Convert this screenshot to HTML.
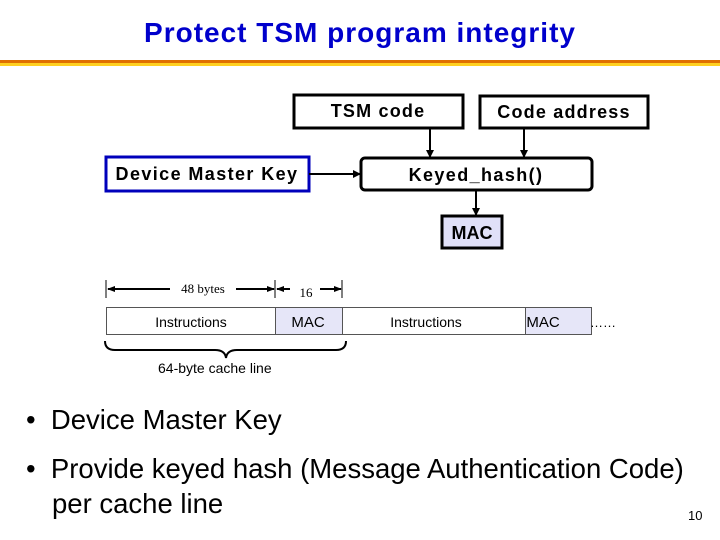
<!DOCTYPE html>
<html><head><style>
body{margin:0;width:720px;height:540px;background:#fff;overflow:hidden;position:relative;font-family:"Liberation Sans",sans-serif}
.t{position:absolute;white-space:nowrap}
</style></head><body>
<div class="t" style="left:0;width:720px;top:17px;text-align:center;font-size:28px;font-weight:bold;color:#0000cc;letter-spacing:1px">Protect TSM program integrity</div>
<div style="position:absolute;left:0;top:60px;width:720px;height:3px;background:#e07000"></div>
<div style="position:absolute;left:0;top:63px;width:720px;height:3px;background:#ffd020"></div>
<svg width="720" height="540" style="position:absolute;left:0;top:0" font-family="Liberation Sans, sans-serif">
<defs><marker id="a" markerWidth="8" markerHeight="8" refX="7" refY="4" orient="auto" markerUnits="userSpaceOnUse"><path d="M0,0L8,4L0,8z" fill="#000"/></marker>
<marker id="s" markerWidth="8" markerHeight="6" refX="7" refY="3" orient="auto" markerUnits="userSpaceOnUse"><path d="M0,0L8,3L0,6z" fill="#000"/></marker></defs>
<rect x="294" y="95" width="169" height="33" fill="#fff" stroke="#000" stroke-width="3"/>
<text x="378" y="117" text-anchor="middle" font-size="18" font-weight="bold" letter-spacing="1.2">TSM code</text>
<rect x="480" y="96" width="168" height="32" fill="#fff" stroke="#000" stroke-width="3"/>
<text x="564" y="118" text-anchor="middle" font-size="18" font-weight="bold" letter-spacing="1.2">Code address</text>
<rect x="106" y="157" width="203" height="34" fill="#fff" stroke="#0000bb" stroke-width="3"/>
<text x="207" y="180" text-anchor="middle" font-size="18" font-weight="bold" letter-spacing="1.4">Device Master Key</text>
<rect x="361" y="158" width="231" height="32" rx="4" fill="#fff" stroke="#000" stroke-width="3"/>
<text x="476" y="181" text-anchor="middle" font-size="18" font-weight="bold" letter-spacing="1.4">Keyed_hash()</text>
<rect x="442" y="216" width="60" height="32" fill="#e0e0f8" stroke="#000" stroke-width="3"/>
<text x="472" y="239" text-anchor="middle" font-size="18" font-weight="bold">MAC</text>
<line x1="430" y1="128" x2="430" y2="157" stroke="#000" stroke-width="2" marker-end="url(#a)"/>
<line x1="524" y1="128" x2="524" y2="157" stroke="#000" stroke-width="2" marker-end="url(#a)"/>
<line x1="309" y1="174" x2="360" y2="174" stroke="#000" stroke-width="2" marker-end="url(#a)"/>
<line x1="476" y1="190" x2="476" y2="215" stroke="#000" stroke-width="2" marker-end="url(#a)"/>
<g stroke="#000" stroke-width="1">
<line x1="106" y1="280" x2="106" y2="298"/><line x1="275" y1="280" x2="275" y2="298"/><line x1="342" y1="280" x2="342" y2="298"/>
</g>
<g stroke="#000" stroke-width="2">
<line x1="236" y1="289" x2="274" y2="289" marker-end="url(#s)"/>
<line x1="320" y1="289" x2="341" y2="289" marker-end="url(#s)"/>
</g>
<path d="M170,289 L108,289" stroke="#000" stroke-width="2" marker-end="url(#s)"/>
<path d="M290,289 L277,289" stroke="#000" stroke-width="2" marker-end="url(#s)"/>
<text x="203" y="293" text-anchor="middle" font-size="13" font-family="Liberation Serif, serif">48 bytes</text>
<text x="306" y="297" text-anchor="middle" font-size="13" font-family="Liberation Serif, serif">16</text>
<g stroke="#555" stroke-width="1">
<rect x="106.5" y="307.5" width="169" height="27" fill="#fff"/>
<rect x="275.5" y="307.5" width="67" height="27" fill="#e6e6f8"/>
<rect x="342.5" y="307.5" width="183" height="27" fill="#fff"/>
<rect x="525.5" y="307.5" width="66" height="27" fill="#e6e6f8"/>
</g>
<g font-size="14" text-anchor="middle">
<text x="191" y="327">Instructions</text><text x="308" y="327" font-size="15">MAC</text>
<text x="426" y="327">Instructions</text><text x="543" y="327" font-size="15">MAC</text>
</g>
<text x="590" y="327" font-size="13">……</text>
<path d="M105,341 Q105,350 115,350 L215,350 Q225,350 226,358 Q227,350 237,350 L336,350 Q346,350 346,341" fill="none" stroke="#000" stroke-width="2"/>
<text x="158" y="373" font-size="14">64-byte cache line</text>
</svg>
<div class="t" style="left:26px;top:404px;font-size:27.5px">•&nbsp;&nbsp;Device Master Key</div>
<div class="t" style="left:26px;top:453px;font-size:27.5px">•&nbsp;&nbsp;Provide keyed hash (Message Authentication Code)</div>
<div class="t" style="left:52px;top:488px;font-size:27.5px">per cache line</div>
<div class="t" style="left:688px;top:508px;font-size:13px">10</div>
</body></html>
